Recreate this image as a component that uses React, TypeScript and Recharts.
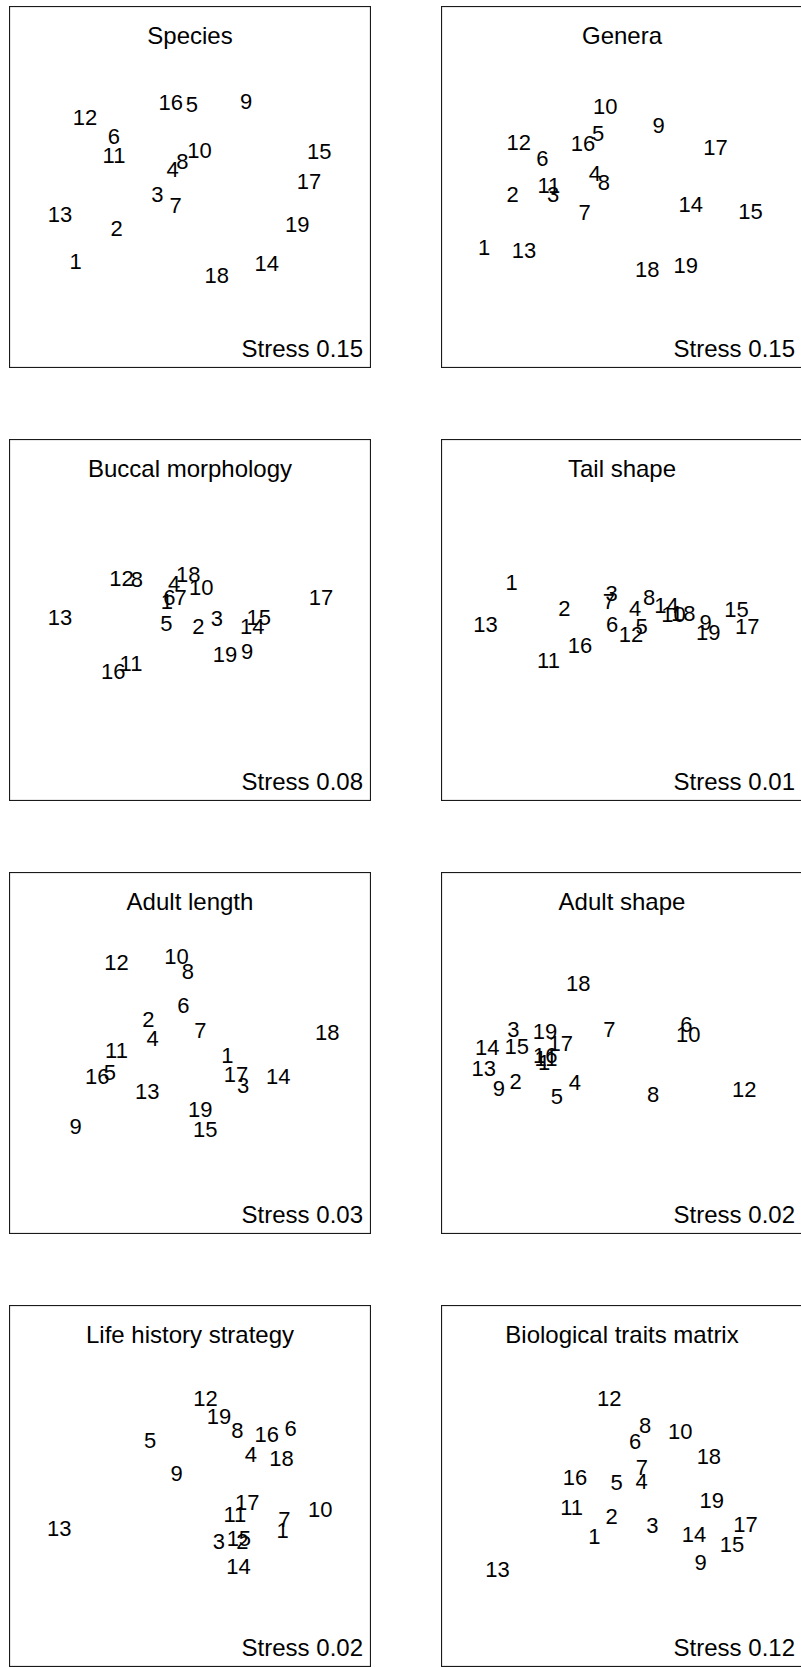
import React from 'react';
import { ScatterChart, Scatter, XAxis, YAxis } from 'recharts';

// site numbers, drawn as the point labels
const sites = [1, 2, 3, 4, 5, 6, 7, 8, 9, 10, 11, 12, 13, 14, 15, 16, 17, 18, 19];

// NMDS scores (scaled to 0-100 of the plot box)
const speciesX = [18.4, 29.7, 41.0, 45.2, 50.5, 29.0, 46.0, 47.9, 65.5, 52.6, 29.0, 21.0, 14.1, 71.2, 85.7, 44.7, 82.9, 57.4, 79.6];
const speciesY = [29.4, 38.7, 48.1, 54.9, 72.8, 64.1, 45.0, 57.2, 73.8, 60.2, 58.7, 69.2, 42.5, 28.9, 59.9, 73.4, 51.7, 25.7, 39.8];

const generaX = [11.9, 19.8, 31.0, 42.5, 43.4, 28.0, 39.7, 45.0, 60.1, 45.4, 29.8, 21.5, 22.9, 69.0, 85.5, 39.2, 75.8, 57.0, 67.6];
const generaY = [33.3, 48.1, 48.1, 53.9, 64.8, 58.0, 43.1, 51.3, 67.1, 72.4, 50.6, 62.3, 32.7, 45.4, 43.4, 62.2, 60.9, 27.4, 28.3];

const buccalX = [43.6, 52.3, 57.4, 45.6, 43.5, 44.3, 47.4, 35.3, 65.8, 53.1, 33.7, 31.1, 14.1, 67.2, 69.0, 28.8, 86.2, 49.5, 59.7];
const buccalY = [55.3, 48.3, 50.6, 60.1, 49.1, 56.3, 56.3, 61.2, 41.3, 59.2, 38.2, 61.5, 50.7, 48.3, 50.7, 35.9, 56.2, 62.7, 40.6];

const tailX = [19.5, 34.1, 47.1, 53.6, 55.4, 47.3, 46.4, 57.5, 73.1, 64.2, 29.7, 52.5, 12.3, 62.3, 81.6, 38.4, 84.6, 66.9, 73.8];
const tailY = [60.4, 53.2, 57.4, 53.2, 48.3, 48.9, 55.1, 56.4, 49.3, 51.6, 38.8, 46.1, 49.0, 54.0, 52.9, 43.0, 48.4, 51.8, 46.8];

const lengthX = [60.3, 38.5, 64.7, 39.7, 27.9, 48.2, 52.9, 49.4, 18.4, 46.3, 29.7, 29.7, 38.2, 74.4, 54.2, 24.4, 62.7, 87.9, 52.8];
const lengthY = [49.3, 59.4, 41.2, 54.2, 44.8, 63.3, 56.4, 72.5, 29.8, 76.7, 50.8, 75.2, 39.5, 43.5, 28.9, 43.6, 44.1, 55.9, 34.4];

const shapeX = [28.5, 20.6, 20.0, 37.0, 32.0, 67.8, 46.5, 58.6, 16.0, 68.3, 29.0, 83.8, 11.8, 12.8, 20.9, 28.8, 33.1, 37.9, 28.7];
const shapeY = [47.4, 42.3, 56.6, 42.1, 38.0, 57.9, 56.5, 38.6, 40.2, 55.2, 48.7, 40.1, 45.9, 51.7, 52.0, 49.3, 52.7, 69.3, 56.1];

const lifeX = [75.6, 64.5, 58.0, 66.8, 39.0, 77.8, 76.1, 63.1, 46.3, 86.0, 62.4, 54.3, 13.9, 63.4, 63.5, 71.2, 65.8, 75.3, 58.0];
const lifeY = [37.8, 34.8, 34.8, 58.7, 62.7, 65.9, 40.9, 65.5, 53.5, 43.6, 42.2, 74.4, 38.3, 28.0, 35.7, 64.3, 45.5, 57.8, 69.2];

const traitsX = [42.4, 47.1, 58.4, 55.4, 48.5, 53.6, 55.5, 56.4, 71.7, 66.1, 36.1, 46.5, 15.6, 69.9, 80.4, 37.0, 84.1, 74.0, 74.8];
const traitsY = [36.3, 41.8, 39.2, 51.4, 51.2, 62.5, 55.2, 66.9, 29.1, 65.2, 44.3, 74.2, 27.1, 36.6, 33.9, 52.4, 39.4, 58.4, 46.1];

const titles = ['Species', 'Genera', 'Buccal morphology', 'Tail shape', 'Adult length', 'Adult shape', 'Life history strategy', 'Biological traits matrix'];
const stress = ['0.15', '0.15', '0.08', '0.01', '0.03', '0.02', '0.02', '0.12'];
const scoresX = [speciesX, generaX, buccalX, tailX, lengthX, shapeX, lifeX, traitsX];
const scoresY = [speciesY, generaY, buccalY, tailY, lengthY, shapeY, lifeY, traitsY];

const SIZE = 362;
const FONT = '"Liberation Sans", Arial, Helvetica, sans-serif';
const colLeft = [9, 441];
const rowTop = [6, 439, 872, 1305];

// draws the site number centred on the point
const SiteLabel = (props: any) => {
    const { cx, cy, payload } = props;
    return (
        <text x={cx} y={cy} dy="0.36em" textAnchor="middle" fontSize={22} fontFamily={FONT} fill="#000">
            {payload.site}
        </text>
    );
};

const Panel = ({ index }: { index: number }) => {
    const data = sites.map((site, i) => ({ site, x: scoresX[index][i], y: scoresY[index][i] }));
    const left = colLeft[index % 2];
    const top = rowTop[Math.floor(index / 2)];

    return (
        <div style={{ position: 'absolute', left, top, width: SIZE, height: SIZE }}>
            <ScatterChart width={SIZE} height={SIZE} margin={{ top: 0, right: 0, bottom: 0, left: 0 }}>
                <XAxis type="number" dataKey="x" domain={[0, 100]} hide />
                <YAxis type="number" dataKey="y" domain={[0, 100]} hide />
                <Scatter data={data} shape={SiteLabel} isAnimationActive={false} />
            </ScatterChart>
            <svg width={SIZE} height={SIZE} style={{ position: 'absolute', left: 0, top: 0, pointerEvents: 'none' }}>
                <rect x={0.5} y={0.5} width={SIZE - 1} height={SIZE - 1} fill="none" stroke="#1a1a1a" strokeWidth={1.2} />
                <text x={SIZE / 2} y={38} textAnchor="middle" fontSize={24} fontFamily={FONT} fill="#000">
                    {titles[index]}
                </text>
                <text x={SIZE - 8} y={SIZE - 11} textAnchor="end" fontSize={24} fontFamily={FONT} fill="#000">
                    Stress {stress[index]}
                </text>
            </svg>
        </div>
    );
};

const App = () => {
    return (
        <div style={{ position: 'absolute', left: 0, top: 0, width: 801, height: 1667, overflow: 'hidden', background: '#fff' }}>
            {titles.map((t, i) => (
                <Panel key={t} index={i} />
            ))}
        </div>
    );
};

export default App;
